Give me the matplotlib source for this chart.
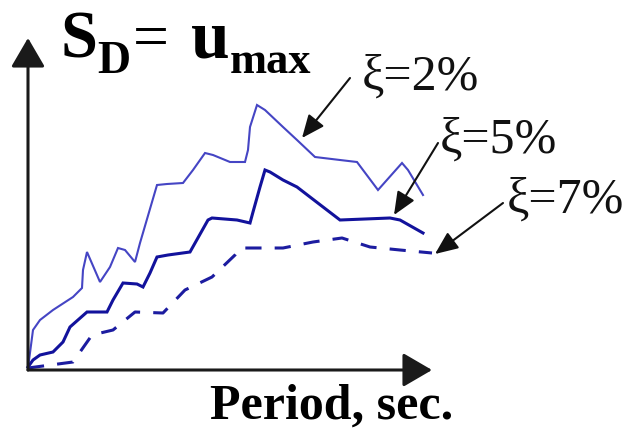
import matplotlib
matplotlib.use('Agg')
import matplotlib.pyplot as plt

# Displacement response spectra for three damping ratios
period_2 = [0.0, 0.05, 0.12, 0.25, 0.45, 0.54, 0.55, 0.59, 0.72, 0.82, 0.90, 0.97,
            1.07, 1.12, 1.29, 1.39, 1.55, 1.65, 1.77, 1.85, 2.02, 2.17, 2.20, 2.22,
            2.29, 2.37, 2.55, 2.69, 2.87, 3.12, 3.29, 3.50, 3.74, 3.80, 3.95]
sd_2 = [0.0, 0.38, 0.48, 0.58, 0.71, 0.80, 0.98, 1.16, 0.86, 1.01, 1.20, 1.18,
        1.06, 1.25, 1.83, 1.84, 1.85, 1.98, 2.15, 2.13, 2.06, 2.06, 2.18, 2.41,
        2.63, 2.58, 2.41, 2.28, 2.11, 2.08, 2.06, 1.78, 2.05, 1.98, 1.73]

period_5 = [0.0, 0.05, 0.12, 0.25, 0.35, 0.42, 0.59, 0.79, 0.85, 0.95, 1.09, 1.15,
            1.22, 1.29, 1.40, 1.62, 1.80, 1.84, 2.09, 2.22, 2.25, 2.32, 2.37, 2.42,
            2.55, 2.69, 2.82, 3.12, 3.62, 3.72, 3.95]
sd_5 = [0.01, 0.08, 0.13, 0.16, 0.26, 0.41, 0.56, 0.56, 0.68, 0.85, 0.84, 0.81,
        0.95, 1.11, 1.13, 1.16, 1.48, 1.50, 1.48, 1.45, 1.56, 1.81, 1.98, 1.96,
        1.88, 1.81, 1.71, 1.48, 1.50, 1.48, 1.35]

period_7 = [0.0, 0.45, 0.64, 0.85, 1.07, 1.35, 1.57, 1.84, 2.07, 2.12, 2.55, 2.85,
            3.14, 3.42, 3.72, 4.04]
sd_7 = [0.0, 0.06, 0.33, 0.38, 0.56, 0.55, 0.78, 0.91, 1.13, 1.20, 1.20, 1.26,
        1.30, 1.21, 1.18, 1.15]

labels = ['ξ=2%', 'ξ=5%', 'ξ=7%']
label_pos = [(3.34, 2.78), (4.12, 2.15), (4.79, 1.55)]
arrow_from = [(3.22, 2.90), (4.10, 2.25), (4.75, 1.65)]
arrow_to = [(2.74, 2.30), (3.66, 1.53), (4.07, 1.14)]

SERIF = 'Liberation Serif'

fig = plt.figure(figsize=(6.28, 4.32), dpi=100)
ax = fig.add_axes([0, 0, 1, 1])
ax.set_xlim(-0.28, 6.00)
ax.set_ylim(-0.64, 3.68)
ax.axis('off')

ax.plot(period_2, sd_2, color='#4545c4', lw=1.5, solid_joinstyle='miter')
ax.plot(period_5, sd_5, color='#12129c', lw=2.2, solid_joinstyle='miter')
ax.plot(period_7, sd_7, color='#1c1ca0', lw=2.2, dashes=(5.3, 4.3))

# axes drawn as arrows
axis_style = '-|>,head_length=1.8,head_width=1.05'
ax.annotate('', xy=(4.04, -0.02), xytext=(0.0, -0.02),
            arrowprops=dict(arrowstyle=axis_style, color='#1a1a1a', lw=2.2,
                            shrinkA=0, shrinkB=0))
ax.annotate('', xy=(0.0, 3.30), xytext=(0.0, -0.02),
            arrowprops=dict(arrowstyle=axis_style, color='#1a1a1a', lw=2.2,
                            shrinkA=0, shrinkB=0))

for text, pos, start, tip in zip(labels, label_pos, arrow_from, arrow_to):
    ax.annotate('', xy=tip, xytext=start,
                arrowprops=dict(arrowstyle='-|>,head_length=1.4,head_width=0.6',
                                color='#111111', lw=1.5, shrinkA=0, shrinkB=0))
    ax.text(pos[0], pos[1], text, family=SERIF, fontsize=36,
            ha='left', va='baseline', color='#111111')

# S_D = u_max
ax.text(0.32, 3.11, 'S', family=SERIF, fontsize=48, weight='bold',
        ha='left', va='baseline')
ax.text(0.69, 2.95, 'D', family=SERIF, fontsize=33, weight='bold',
        ha='left', va='baseline')
ax.text(1.05, 3.26, '=', family=SERIF, fontsize=46,
        ha='left', va='center')
ax.text(1.63, 3.11, 'u', family=SERIF, fontsize=50, weight='bold',
        ha='left', va='baseline')
ax.text(2.02, 2.95, 'max', family=SERIF, fontsize=32, weight='bold',
        ha='left', va='baseline')

ax.text(1.82, -0.51, 'Period, sec.', family=SERIF, fontsize=36, weight='bold',
        ha='left', va='baseline')

fig.savefig('out.png', dpi=100)
